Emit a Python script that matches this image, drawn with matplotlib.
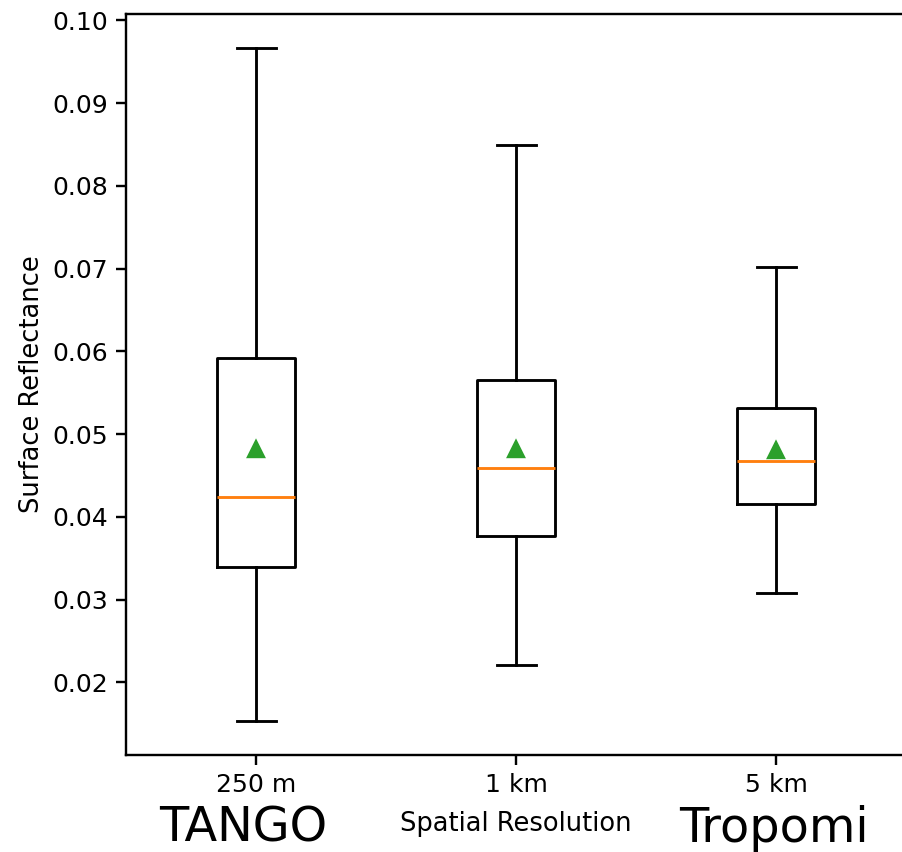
import matplotlib
matplotlib.use("Agg")
import matplotlib.pyplot as plt

labels = ["250 m", "1 km", "5 km"]
whislo = [0.0153, 0.0221, 0.0308]
q1 = [0.0340, 0.0377, 0.0416]
med = [0.0424, 0.0459, 0.0468]
q3 = [0.0592, 0.0566, 0.0532]
whishi = [0.0967, 0.0850, 0.0702]
means = [0.0482, 0.0482, 0.0481]

stats = []
for i in range(len(labels)):
    stats.append(dict(label=labels[i], whislo=whislo[i], q1=q1[i], med=med[i],
                      q3=q3[i], whishi=whishi[i], mean=means[i], fliers=[]))

DPI = 172
lw = 1.2
fig = plt.figure(figsize=(902/DPI, 852/DPI), dpi=DPI)
ax = fig.add_axes([126/902, (852-755)/852, 780/902, 741/852])
ax.bxp(stats, showmeans=True, showfliers=False,
       boxprops=dict(linewidth=lw), whiskerprops=dict(linewidth=lw),
       capprops=dict(linewidth=lw), medianprops=dict(linewidth=lw, color="C1"),
       meanprops=dict(marker="^", markerfacecolor="C2", markeredgecolor="C2", markersize=7))
ax.set_xlim(0.5, 3.5)
for s in ax.spines.values():
    s.set_linewidth(1.0)
ax.tick_params(labelsize=10.5, length=4, width=1.0)
ax.set_ylabel("Surface Reflectance", fontsize=10.8, labelpad=3)
ax.set_xlabel("Spatial Resolution", fontsize=10.8, labelpad=6)

fig.text(243/902, (852-842)/852, "TANGO", fontsize=20, ha="center", va="baseline")
fig.text(774/902, (852-842)/852, "Tropomi", fontsize=20, ha="center", va="baseline")

fig.savefig("out.png", dpi=DPI)
